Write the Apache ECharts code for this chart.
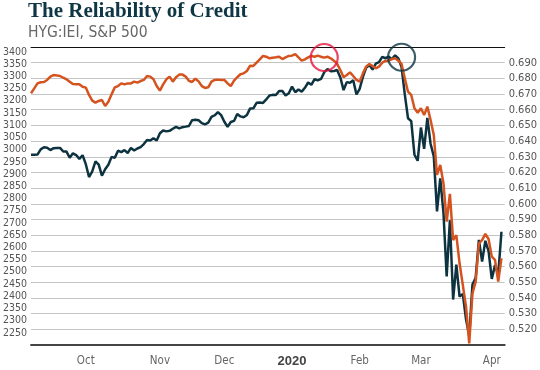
<!DOCTYPE html>
<html><head><meta charset="utf-8">
<script src="https://cdn.jsdelivr.net/npm/echarts@6/dist/echarts.min.js"></script>
<style>html,body{margin:0;padding:0;background:#fff}#c{width:540px;height:370px}</style>
</head><body><div id="c"></div>
<script>
const dates = [
"2019-09-06","2019-09-09","2019-09-10","2019-09-11","2019-09-12","2019-09-13","2019-09-16","2019-09-17","2019-09-18","2019-09-19","2019-09-20","2019-09-23","2019-09-24","2019-09-25","2019-09-26","2019-09-27","2019-09-30",
"2019-10-01","2019-10-02","2019-10-03","2019-10-04","2019-10-07","2019-10-08","2019-10-09","2019-10-10","2019-10-11","2019-10-14","2019-10-15","2019-10-16","2019-10-17","2019-10-18","2019-10-21","2019-10-22","2019-10-23","2019-10-24","2019-10-25","2019-10-28","2019-10-29","2019-10-30","2019-10-31",
"2019-11-01","2019-11-04","2019-11-05","2019-11-06","2019-11-07","2019-11-08","2019-11-11","2019-11-12","2019-11-13","2019-11-14","2019-11-15","2019-11-18","2019-11-19","2019-11-20","2019-11-21","2019-11-22","2019-11-25","2019-11-26","2019-11-27","2019-11-29",
"2019-12-02","2019-12-03","2019-12-04","2019-12-05","2019-12-06","2019-12-09","2019-12-10","2019-12-11","2019-12-12","2019-12-13","2019-12-16","2019-12-17","2019-12-18","2019-12-19","2019-12-20","2019-12-23","2019-12-24","2019-12-26","2019-12-27","2019-12-30","2019-12-31",
"2020-01-02","2020-01-03","2020-01-06","2020-01-07","2020-01-08","2020-01-09","2020-01-10","2020-01-13","2020-01-14","2020-01-15","2020-01-16","2020-01-17","2020-01-21","2020-01-22","2020-01-23","2020-01-24","2020-01-27","2020-01-28","2020-01-29","2020-01-30","2020-01-31",
"2020-02-03","2020-02-04","2020-02-05","2020-02-06","2020-02-07","2020-02-10","2020-02-11","2020-02-12","2020-02-13","2020-02-14","2020-02-18","2020-02-19","2020-02-20","2020-02-21","2020-02-24","2020-02-25","2020-02-26","2020-02-27","2020-02-28",
"2020-03-02","2020-03-03","2020-03-04","2020-03-05","2020-03-06","2020-03-09","2020-03-10","2020-03-11","2020-03-12","2020-03-13","2020-03-16","2020-03-17","2020-03-18","2020-03-19","2020-03-20","2020-03-23","2020-03-24","2020-03-25","2020-03-26","2020-03-27","2020-03-30","2020-03-31",
"2020-04-01","2020-04-02","2020-04-03","2020-04-06","2020-04-07"];

const sp500 = [
2978.71,2978.43,2979.39,3000.93,3009.57,3007.39,2997.96,3005.70,3006.73,3006.79,2992.07,2991.78,2966.60,2984.87,2977.62,2961.79,2976.74,
2940.25,2887.61,2910.63,2952.01,2938.79,2893.06,2919.40,2938.13,2970.27,2966.15,2995.68,2989.69,2997.95,2986.20,3006.72,2995.99,3004.52,3010.29,3022.55,3039.42,3036.89,3046.77,3037.56,
3066.91,3078.27,3074.62,3076.78,3085.18,3093.08,3087.01,3091.84,3094.04,3096.63,3120.46,3122.03,3120.18,3108.46,3103.54,3110.29,3133.64,3140.52,3153.63,3140.98,
3113.87,3093.20,3112.76,3117.43,3145.91,3135.96,3132.52,3141.63,3168.57,3168.80,3191.45,3192.52,3191.14,3205.37,3221.22,3224.01,3223.38,3239.91,3240.02,3221.29,3230.78,
3257.85,3234.85,3246.28,3237.18,3253.05,3274.70,3265.35,3288.13,3283.15,3289.29,3316.81,3329.62,3320.79,3321.75,3325.54,3295.47,3243.63,3276.24,3273.40,3283.66,3225.52,
3248.92,3297.59,3334.69,3345.78,3327.71,3352.09,3357.75,3379.45,3373.94,3380.16,3370.29,3386.15,3373.23,3337.75,3225.89,3128.21,3116.39,2978.76,2954.22,
3090.23,3003.37,3130.12,3023.94,2972.37,2746.56,2882.23,2741.38,2480.64,2711.02,2386.13,2529.19,2398.10,2409.39,2304.92,2237.40,2447.33,2475.56,2630.07,2541.47,2626.65,2584.59,
2470.50,2526.90,2488.65,2663.68,null];

const hygIei = [
0.6705,0.6736,0.6768,0.6775,0.6777,0.6790,0.6811,0.6821,0.6819,0.6815,0.6804,0.6794,0.6779,0.6764,0.6762,0.6762,0.6747,
0.6741,0.6694,0.6658,0.6645,0.6656,0.6662,0.6624,0.6651,0.6698,0.6743,0.6751,0.6768,0.6762,0.6768,0.6768,0.6779,0.6773,0.6783,0.6790,0.6815,0.6811,0.6794,0.6751,
0.6722,0.6762,0.6794,0.6811,0.6779,0.6807,0.6824,0.6824,0.6811,0.6785,0.6777,0.6798,0.6781,0.6751,0.6739,0.6743,0.6779,0.6790,0.6792,0.6790,
0.6790,0.6768,0.6751,0.6785,0.6807,0.6826,0.6832,0.6847,0.6881,0.6879,0.6900,0.6921,0.6943,0.6938,0.6928,0.6932,0.6934,0.6938,0.6923,0.6934,0.6943,
0.6945,0.6955,0.6934,0.6913,0.6921,0.6934,0.6943,0.6938,0.6945,0.6938,0.6932,0.6938,0.6928,0.6913,0.6892,0.6853,0.6807,0.6821,0.6838,0.6815,0.6790,
0.6779,0.6832,0.6875,0.6892,0.6879,0.6864,0.6875,0.6900,0.6911,0.6913,0.6923,0.6928,0.6913,0.6892,0.6800,0.6715,0.6694,0.6609,0.6581,
0.6609,0.6566,0.6620,0.6535,0.6439,0.6184,0.6248,0.6131,0.5886,0.6063,0.5769,0.5801,0.5621,0.5483,0.5344,0.5110,0.5429,0.5504,0.5748,0.5769,0.5808,0.5776,
0.5663,0.5642,0.5504,0.5653,null];

const monthTicks = ["2019-10-01","2019-11-01","2019-12-02","2020-01-02","2020-02-03","2020-03-02","2020-04-01"];
const monthLabels = ["Oct","Nov","Dec","2020","Feb","Mar","Apr"];
const leftTicks = [2250,2300,2350,2400,2450,2500,2550,2600,2650,2700,2750,2800,2850,2900,2950,3000,3050,3100,3150,3200,3250,3300,3350,3400];
const rightTicks = [0.52,0.53,0.54,0.55,0.56,0.57,0.58,0.59,0.60,0.61,0.62,0.63,0.64,0.65,0.66,0.67,0.68,0.69];
const redCircle = [91.3, 0.6933];
const darkCircle = [115.2, 3378];

const narrow = "'Liberation Sans Narrow','DejaVu Sans Condensed',sans-serif";
const chart = echarts.init(document.getElementById('c'), null, {renderer:'canvas'});
chart.setOption({
  animation:false,
  backgroundColor:'#fff',
  title:[
    {text:'The Reliability of Credit', left:28, top:1, padding:0,
     textStyle:{fontFamily:"'Liberation Serif',serif", fontWeight:'bold', fontSize:21, color:'#0e3644'}},
    {text:'HYG:IEI, S&P 500', left:28, top:25, padding:0,
     textStyle:{fontFamily:narrow, fontWeight:'normal', fontSize:15.5, color:'#666'}}
  ],
  grid:{left:26, right:34, top:47, bottom:25, containLabel:false},
  xAxis:[
    {type:'category', data:dates, boundaryGap:false,
     axisLine:{onZero:false, lineStyle:{color:'#444', width:2}},
     axisTick:{show:false}, splitLine:{show:false},
     axisLabel:{interval:(i,v)=>monthTicks.includes(v),
       formatter:(v)=>{const k=monthTicks.indexOf(v); if(k<0) return ''; const t=monthLabels[k]; return t==='2020'?'{b|2020}':t;},
       margin:10, fontFamily:narrow, fontSize:11.5, color:'#666',
       rich:{b:{fontFamily:"'Liberation Sans',sans-serif", fontWeight:'bold', fontSize:13, color:'#444'}}}},
    {type:'category', data:dates, boundaryGap:false, position:'top',
     axisLine:{onZero:false, lineStyle:{color:'#111', width:1}},
     axisTick:{show:false}, axisLabel:{show:false}, splitLine:{show:false}}
  ],
  yAxis:[
    {type:'value', position:'left', min:2200, max:3420,
     axisLine:{show:false}, axisTick:{show:false}, splitLine:{show:false},
     axisLabel:{customValues:leftTicks, formatter:(v)=>String(v), showMinLabel:true, showMaxLabel:true,
       margin:4, fontFamily:narrow, fontSize:10.5, color:'#555'}},
    {type:'value', position:'right', min:0.51, max:0.70,
     axisLine:{show:false}, axisTick:{show:false, customValues:rightTicks},
     splitLine:{show:true, lineStyle:{color:'#c4c4c4', width:1}},
     axisLabel:{customValues:rightTicks, formatter:(v)=>v.toFixed(3), showMinLabel:true, showMaxLabel:true,
       margin:4, fontFamily:narrow, fontSize:11, color:'#555'}}
  ],
  series:[
    {name:'S&P 500', type:'line', data:sp500, yAxisIndex:0, showSymbol:false, symbol:'none',
     lineStyle:{color:'#0d3340', width:2.5}, z:2},
    {name:'HYG:IEI', type:'line', data:hygIei, yAxisIndex:1, showSymbol:false, symbol:'none',
     lineStyle:{color:'#d4531f', width:2.5}, z:3},
    {type:'scatter', yAxisIndex:1, data:[redCircle], symbol:'circle', symbolSize:27, silent:true,
     itemStyle:{color:'rgba(0,0,0,0)', borderColor:'#e5173f', borderWidth:2.2}, z:4},
    {type:'scatter', yAxisIndex:0, data:[darkCircle], symbol:'circle', symbolSize:27, silent:true,
     itemStyle:{color:'rgba(0,0,0,0)', borderColor:'#0d3340', borderWidth:2.2}, z:4}
  ]
});
</script></body></html>
